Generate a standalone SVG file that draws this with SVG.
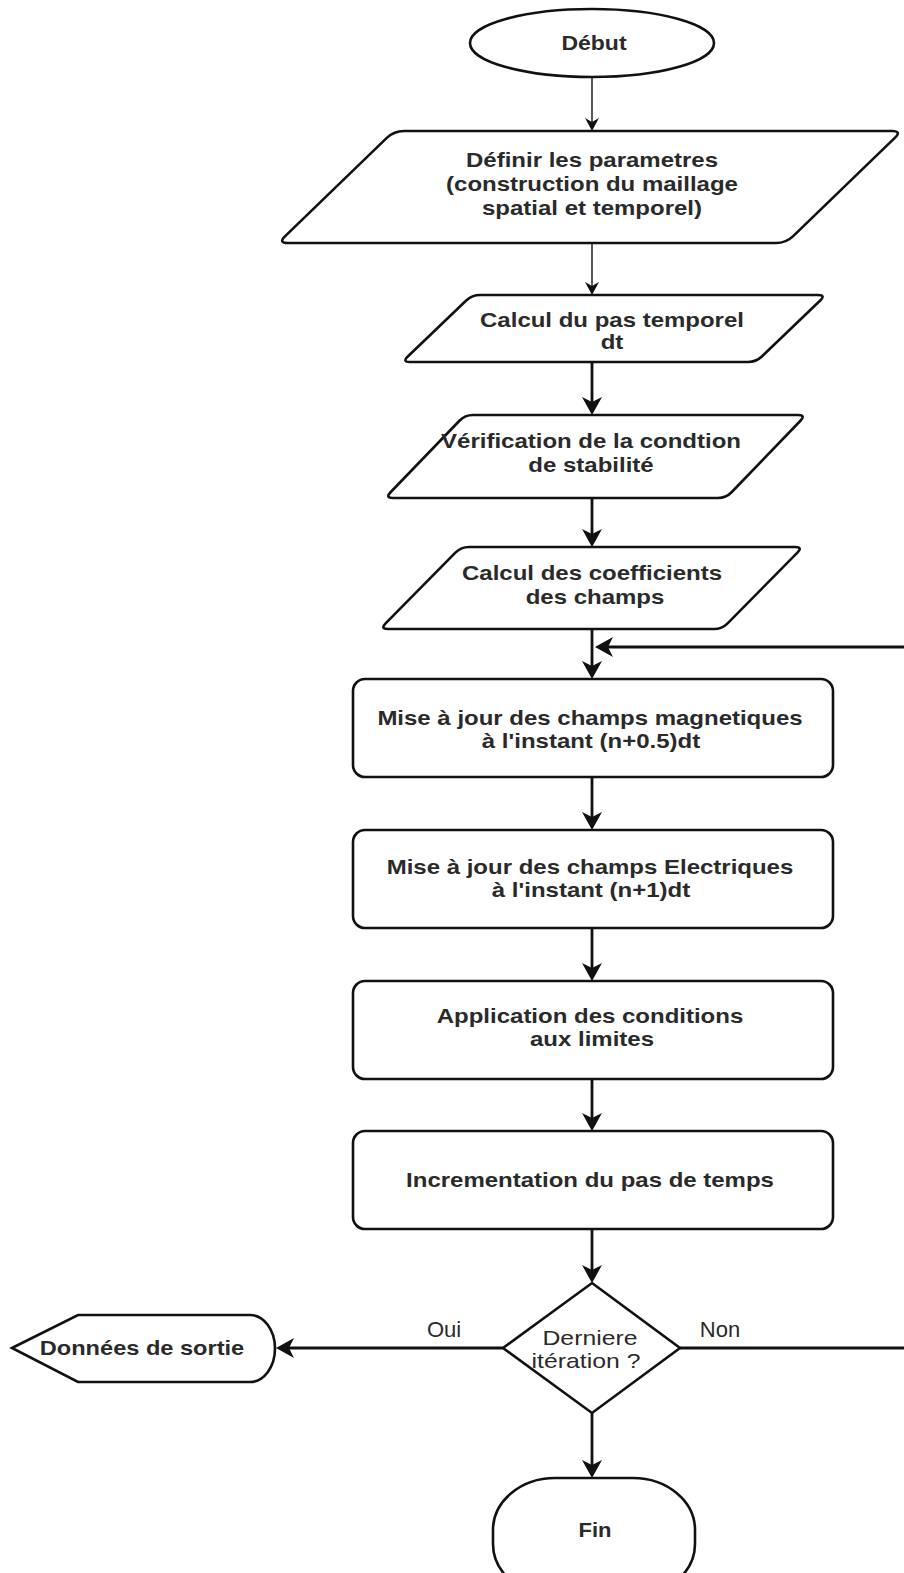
<svg xmlns="http://www.w3.org/2000/svg" width="904" height="1573" viewBox="0 0 904 1573">
<style>
.s{fill:#fff;stroke:#111;stroke-width:2.6}
.c{fill:none;stroke:#111;stroke-width:2.8}
.ct{fill:none;stroke:#111;stroke-width:1.4}
text{font-family:"Liberation Sans",Arial,sans-serif;font-size:20px;fill:#2a2a2a;text-anchor:middle}
.b{font-weight:bold}
.lbl{font-size:22px}
</style>
<defs>
<marker id="ah" markerUnits="userSpaceOnUse" viewBox="0 0 18 20" markerWidth="18" markerHeight="20" refX="12" refY="10" orient="auto">
<path d="M0,0 L18,10 L0,20 L5,10 Z" fill="#111"/>
</marker>
<marker id="aht" markerUnits="userSpaceOnUse" viewBox="0 0 13 14" markerWidth="13" markerHeight="14" refX="9" refY="7" orient="auto">
<path d="M0,0 L13,7 L0,14 L4,7 Z" fill="#111"/>
</marker>
</defs>
<rect width="904" height="1573" fill="#fff"/>

<g id="connectors">
<path class="ct" d="M592,77 L592,127" marker-end="url(#aht)"/>
<path class="ct" d="M592,243 L592,291" marker-end="url(#aht)"/>
<path class="c" d="M592,362 L592,409" marker-end="url(#ah)"/>
<path class="c" d="M592,498 L592,541" marker-end="url(#ah)"/>
<path class="c" d="M592,629 L592,673" marker-end="url(#ah)"/>
<path class="c" d="M906,647 L601,647" marker-end="url(#ah)"/>
<path class="c" d="M592,777 L592,824" marker-end="url(#ah)"/>
<path class="c" d="M592,928 L592,975" marker-end="url(#ah)"/>
<path class="c" d="M592,1079 L592,1125" marker-end="url(#ah)"/>
<path class="c" d="M592,1229 L592,1277" marker-end="url(#ah)"/>
<path class="c" d="M503,1348 L282,1348" marker-end="url(#ah)"/>
<path class="c" d="M680,1348 L906,1348"/>
<path class="c" d="M592,1413 L592,1472" marker-end="url(#ah)"/>
<text class="lbl" x="444" y="1337">Oui</text>
<text class="lbl" x="720" y="1337">Non</text>
</g>

<g id="debut">
<ellipse class="s" cx="592" cy="43" rx="122" ry="34"/>
<text class="b" transform="translate(594,50) scale(1.15,1)">Début</text>
</g>

<g id="definir">
<path class="s" d="M404,131 L892,131 Q902,131 894.8,137.9 L793.2,236.1 Q786,243 776,243 L288,243 Q278,243 285.2,236.1 L386.8,137.9 Q394,131 404,131 Z"/>
<text class="b" transform="translate(592,167) scale(1.2,1)">Définir les parametres</text>
<text class="b" transform="translate(592,191) scale(1.2,1)">(construction du maillage</text>
<text class="b" transform="translate(592,215) scale(1.2,1)">spatial et temporel)</text>
</g>

<g id="calcul-dt">
<path class="s" d="M480,295 L818,295 Q826,295 820.2,300.5 L761.8,356.5 Q756,362 748,362 L410,362 Q402,362 407.8,356.5 L466.2,300.5 Q472,295 480,295 Z"/>
<text class="b" transform="translate(612,327) scale(1.2,1)">Calcul du pas temporel</text>
<text class="b" transform="translate(612,349) scale(1.2,1)">dt</text>
</g>

<g id="verification">
<path class="s" d="M473,415 L798,415 Q806,415 800.45,420.76 L731.55,492.24 Q726,498 718,498 L393,498 Q385,498 390.55,492.24 L459.45,420.76 Q465,415 473,415 Z"/>
<text class="b" transform="translate(591,448) scale(1.2,1)">Vérification de la condtion</text>
<text class="b" transform="translate(591,472) scale(1.2,1)">de stabilité</text>
</g>

<g id="coefficients">
<path class="s" d="M469,547 L795,547 Q803,547 797.4,552.7 L727.6,623.3 Q722,629 714,629 L388,629 Q380,629 385.6,623.3 L455.4,552.7 Q461,547 469,547 Z"/>
<text class="b" transform="translate(592,580) scale(1.2,1)">Calcul des coefficients</text>
<text class="b" transform="translate(595,604) scale(1.2,1)">des champs</text>
</g>

<g id="maj-h">
<rect class="s" x="353" y="679" width="480" height="98" rx="12"/>
<text class="b" transform="translate(590,725) scale(1.2,1)">Mise à jour des champs magnetiques</text>
<text class="b" transform="translate(591,748) scale(1.2,1)">à l'instant (n+0.5)dt</text>
</g>

<g id="maj-e">
<rect class="s" x="353" y="830" width="480" height="98" rx="12"/>
<text class="b" transform="translate(590,874) scale(1.2,1)">Mise à jour des champs Electriques</text>
<text class="b" transform="translate(591,897) scale(1.2,1)">à l'instant (n+1)dt</text>
</g>

<g id="conditions">
<rect class="s" x="353" y="981" width="480" height="98" rx="12"/>
<text class="b" transform="translate(590,1023) scale(1.2,1)">Application des conditions</text>
<text class="b" transform="translate(592,1046) scale(1.2,1)">aux limites</text>
</g>

<g id="increment">
<rect class="s" x="353" y="1131" width="480" height="98" rx="12"/>
<text class="b" transform="translate(590,1187) scale(1.2,1)">Incrementation du pas de temps</text>
</g>

<g id="decision">
<path class="s" d="M592,1283 L680,1348 L592,1413 L503,1348 Z"/>
<text transform="translate(590,1345) scale(1.24,1)">Derniere</text>
<text transform="translate(586,1368) scale(1.24,1)">itération ?</text>
</g>

<g id="sortie">
<path class="s" d="M12,1348 L78,1315 L250,1315 A25,33.5 0 0 1 250,1382 L78,1382 Z"/>
<text class="b" transform="translate(142,1355) scale(1.18,1)">Données de sortie</text>
</g>

<g id="fin">
<rect class="s" x="493" y="1478" width="202" height="118" rx="62" ry="52"/>
<text class="b" transform="translate(595,1537) scale(1.1,1)">Fin</text>
</g>
</svg>
